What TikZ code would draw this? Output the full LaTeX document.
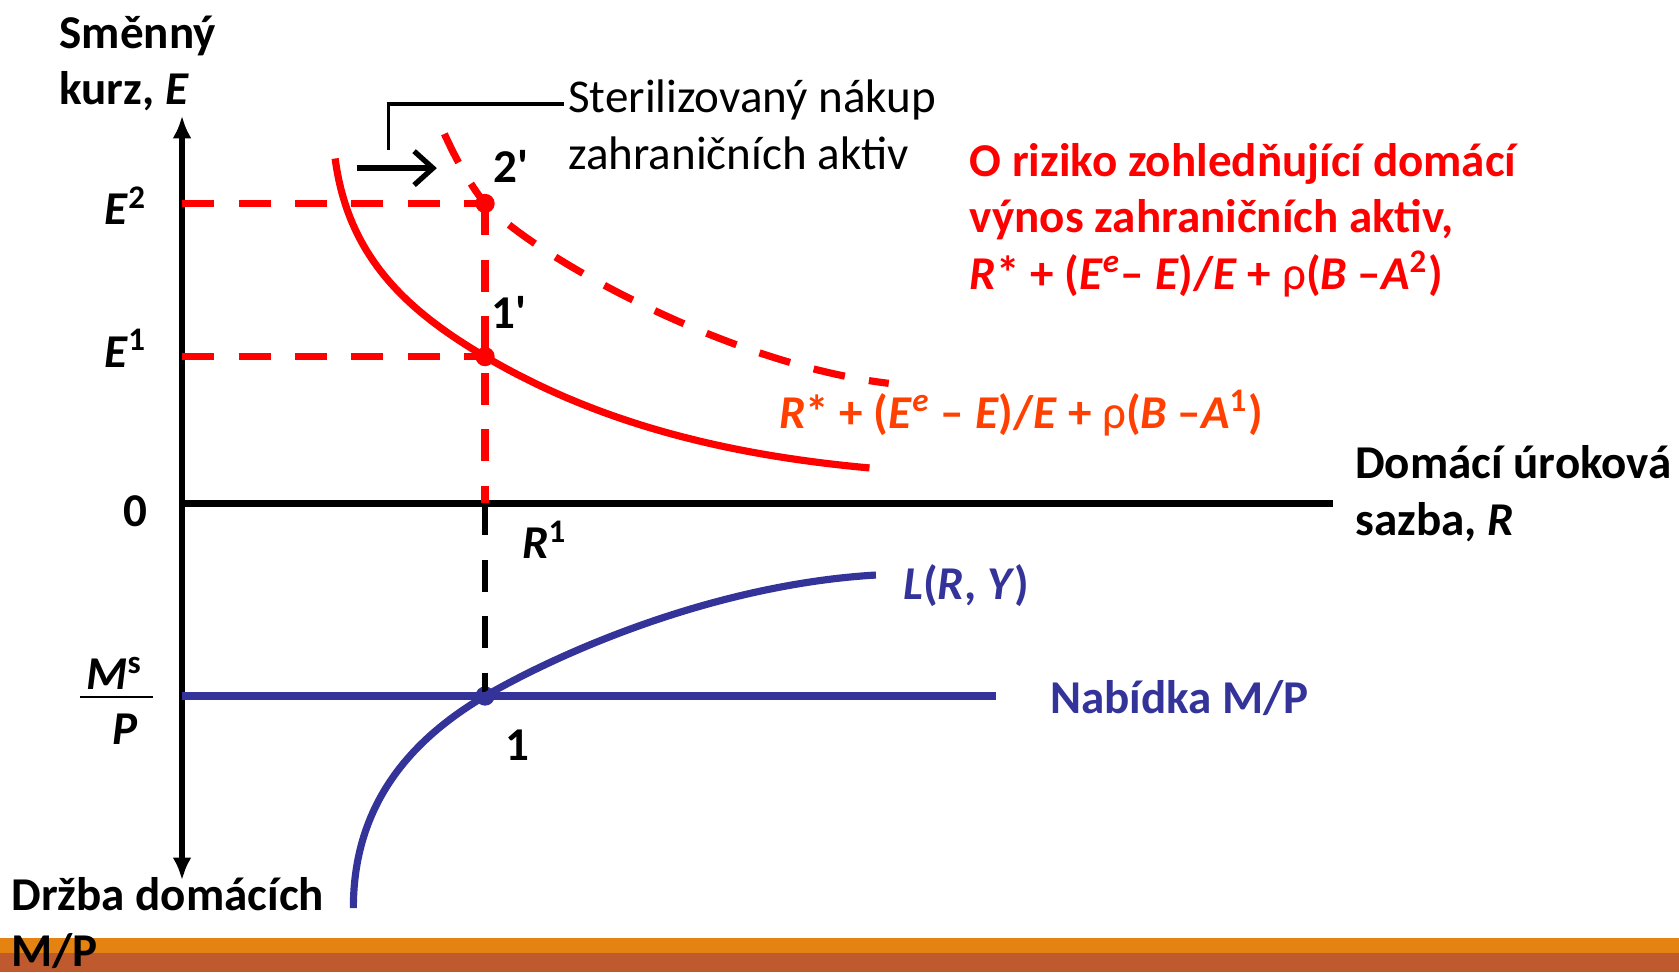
\documentclass[tikz,border=0pt]{standalone}
\usepackage{fontspec}
\setmainfont{Carlito}
\usetikzlibrary{positioning,arrows.meta,calc}
\definecolor{curvered}{HTML}{FF0000}
\definecolor{labelorange}{HTML}{FF4000}
\definecolor{moneyblue}{HTML}{333399}
\definecolor{barorange}{HTML}{E48312}
\definecolor{barbrown}{HTML}{BE5A2E}
\tikzset{
  lab/.style={font=\fontsize{12.5}{15}\selectfont\bfseries,inner sep=0pt,
              align=left,anchor=base west},
  plainlab/.style={lab,font=\fontsize{12.5}{15}\selectfont},
  axisline/.style={line width=1.8pt,-{Latex[length=6pt,width=5pt]}},
  redline/.style={curvered,line width=1.9pt},
  reddash/.style={redline,dash pattern=on 8.5pt off 6.5pt},
  blackdash/.style={black,line width=1.8pt,dash pattern=on 8.5pt off 6.5pt},
  blueline/.style={moneyblue,line width=1.9pt},
  dotpt/.style={circle,fill,inner sep=0pt,minimum size=0.18cm},
}
\newcommand{\vi}[1]{\textit{#1}}
\newcommand{\rh}{{\mdseries ρ}}

\begin{document}
\begin{tikzpicture}[x=0.01cm,y=-0.01cm]
  \useasboundingbox (0,0) rectangle (1568,908);
  % footer bars
  \fill[barorange] (0,876) rectangle (1568,890);
  \fill[barbrown]  (0,890) rectangle (1568,908);

  % axes
  \coordinate (o)    at (170,470);
  \coordinate (ytop) at (170,108);
  \coordinate (ybot) at (170,822);
  \coordinate (xend) at (1245,470);
  \draw[axisline] (o) -- (ytop);
  \draw[axisline] (o) -- (ybot);
  \draw[line width=1.9pt] (o) -- (xend);

  % equilibrium points
  \node[dotpt,curvered]  (pt2)  at (453,190) {};
  \node[dotpt,curvered]  (pt1p) at (453,333) {};
  \node[dotpt,moneyblue] (pt1)  at (453,650) {};
  \coordinate (e2) at (170,190);
  \coordinate (e1) at (170,333);
  \coordinate (r1) at (453,470);
  \draw[reddash] (e2) -- (pt2.center);
  \draw[reddash] (e1) -- (pt1p.center);
  \draw[reddash] (pt2.center) -- (r1);
  \draw[blackdash] (r1) -- (pt1.center);

  % foreign return curves
  \coordinate (aone) at (313,148);
  \coordinate (bone) at (812,437);
  \coordinate (atwo) at (415,125);
  \coordinate (btwo) at (830,358);
  \draw[redline] (aone) .. controls (325,240) and (380,290) .. (pt1p.center)
    .. controls (560,396) and (680,425) .. (bone);
  \draw[reddash] (atwo) .. controls (432,162) and (445,180) .. (pt2.center)
    .. controls (500,240) and (680,340) .. (btwo);

  % money market
  \coordinate (msl) at (170,650);
  \coordinate (msr) at (930,650);
  \coordinate (lbot) at (330,848);
  \coordinate (ltop) at (818,537);
  \draw[blueline,line width=2pt] (msl) -- (msr);
  \draw[blueline] (lbot) .. controls (330,750) and (385,690) .. (pt1.center)
    .. controls (540,600) and (680,545) .. (ltop);

  % shift arrow and note
  \coordinate (sh1) at (333,157);
  \coordinate (sh2) at (408,157);
  \coordinate (brk) at (363,140);
  \coordinate (notein) at (527,97);
  \draw[line width=1.4pt,-{Straight Barb[length=5pt,width=9pt]}] (sh1) -- (sh2);
  \draw[line width=0.9pt] (brk) |- (notein);

  % labels (base = last line)
  \node[lab] (ylab) at (55,98) {Směnný\\kurz, \vi{E}};
  \node[plainlab] (note) at (530,158) {Sterilizovaný nákup\\zahraničních aktiv};
  \node[lab,curvered] (rtwo) at (905,270)
    {O riziko zohledňující domácí\\výnos zahraničních aktiv,\\
     \vi{R}* + (\vi{E}\textsuperscript{\vi{e}}– \vi{E})/\vi{E} + \rh(\vi{B} –\vi{A}\textsuperscript{2})};
  \node[lab,labelorange] (rone) at (727,400)
    {\vi{R}* + (\vi{E}\textsuperscript{\vi{e}} – \vi{E})/\vi{E} + \rh(\vi{B} –\vi{A}\textsuperscript{1})};
  \node[lab] (xlab) at (1265,500) {Domácí úroková\\sazba, \vi{R}};
  \node[lab] (zero) at (115,492) {0};
  \node[lab] (le2) at (97,210) {\vi{E}\textsuperscript{2}};
  \node[lab] (le1) at (97,343) {\vi{E}\textsuperscript{1}};
  \node[lab] (l2p) at (460,170) {2\textquotesingle};
  \node[lab] (l1p) at (458,307) {1\textquotesingle};
  \node[lab] (lr1) at (487,522) {\vi{R}\textsuperscript{1}};
  \node[lab,moneyblue] (lliq) at (843,560) {\vi{L}(\vi{R}, \vi{Y})};
  \node[lab,moneyblue] (lsup) at (980,666) {Nabídka M/P};
  \node[lab] (lone) at (471,710) {1};
  \node[lab] (ms) at (80,644) {\vi{M}\textsuperscript{s}};
  \node[lab] (pp) at (104,695) {\vi{P}};
  \draw[line width=0.5pt] (75,651) -- (143,651);
  \node[lab] (hold) at (10,903) {Držba domácích\\M/P};
\end{tikzpicture}
\end{document}
